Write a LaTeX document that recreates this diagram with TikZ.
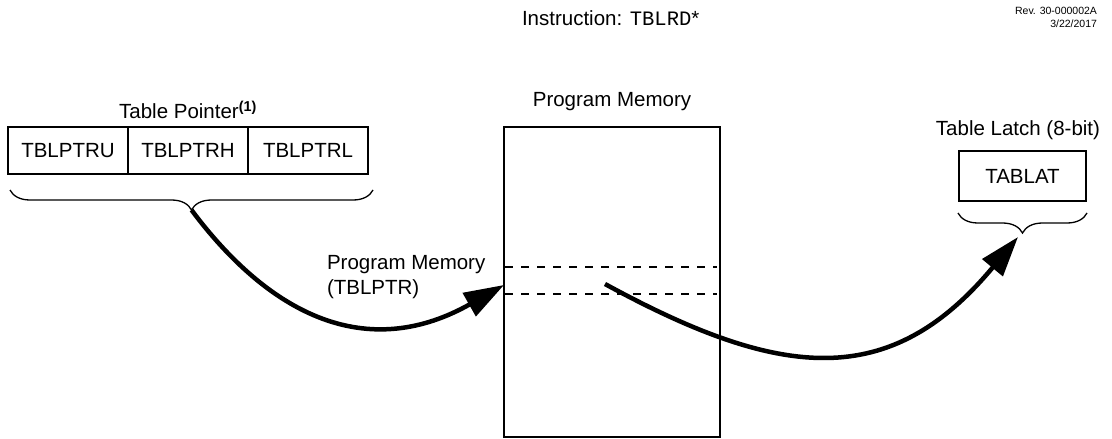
\documentclass[tikz,border=0pt]{standalone}
\usepackage{fontspec}
\setmainfont{Liberation Sans}
\setmonofont{Liberation Mono}
\usetikzlibrary{arrows.meta,decorations.pathreplacing,positioning}

\begin{document}
\begin{tikzpicture}[x=1pt, y=-1pt,
        every node/.style={font=\fontsize{20.5}{25}\selectfont, inner sep=0pt, outer sep=0pt},
        reg/.style={draw, line width=2pt, minimum width=120pt, minimum height=47pt},
        brc/.style={decorate, decoration={brace, mirror, amplitude=20pt}, line width=1.3pt},
        dsh/.style={line width=2pt, dash pattern=on 8pt off 8pt},
        big/.style={line width=4.5pt, -{Triangle[length=40pt,width=26pt]}}]
        \useasboundingbox (0,0) rectangle (1112,439);

        \node[anchor=base west] at (522,25)(instr){Instruction: \texttt{TBLRD}*};
        \node[anchor=east, font=\fontsize{10.5}{12}\selectfont] at (1097,11)(rev){Rev. 30-000002A};
        \node[anchor=east, font=\fontsize{10.5}{12}\selectfont] at (1097,24)(date){3/22/2017};

        \node[reg] at (68,150.5)(ptru){TBLPTRU};
        \node[reg] at (188,150.5)(ptrh){TBLPTRH};
        \node[reg] at (308,150.5)(ptrl){TBLPTRL};
        \node at (188,110)(ptrtitle){Table Pointer\textsuperscript{\textbf{(1)}}};

        \node[draw, line width=2pt, minimum width=216pt, minimum height=310pt] at (612,282)(pm){};
        \node at (612,102)(pmtitle){Program Memory};
        \node[anchor=west, align=left] at (327,277.5)(pmlabel){Program Memory\\(TBLPTR)};

        \node[reg, minimum width=127pt, minimum height=50pt] at (1022.5,176)(tablat){TABLAT};
        \node at (1018,130)(lattitle){Table Latch (8-bit)};

        \draw[dsh] (505,267) -- (717,267);
        \draw[dsh] (505,294) -- (717,294);

        \draw[brc] (10,190) -- (373,190);
        \draw[brc] (958,213) -- (1087,213);

        \coordinate (ptrtip) at (191.5,210);
        \coordinate (pmin) at (504,285);
        \coordinate (pmrow) at (605,284);
        \coordinate (latchin) at (1018,237);

        \draw[big] (ptrtip) .. controls (276,323) and (373,359) .. (pmin);
        \draw[big] (pmrow) .. controls (781,380) and (890,391) .. (latchin);
    \end{tikzpicture}
\end{document}
